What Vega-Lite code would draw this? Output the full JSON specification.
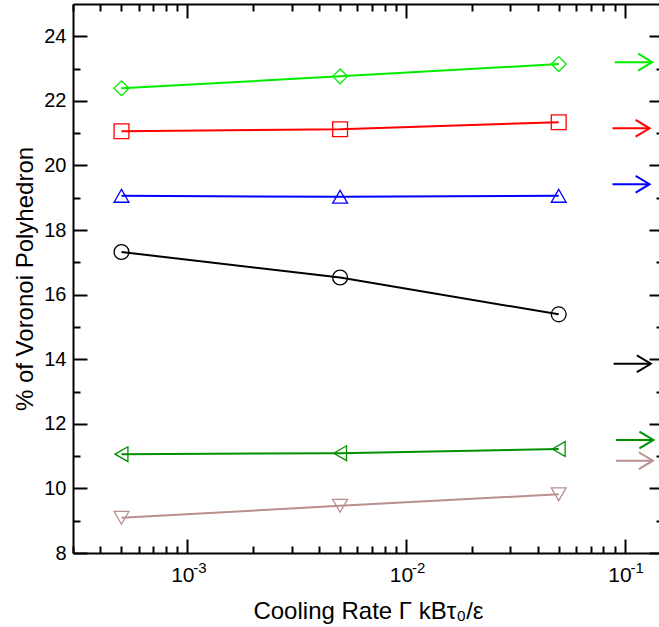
{
  "$schema": "https://vega.github.io/schema/vega-lite/v6.json",
  "autosize": {"type": "none"},
  "padding": {"left": 73, "top": 4, "right": 0, "bottom": 74},
  "width": 590,
  "height": 549,
  "background": "white",
  "config": {
    "view": {"stroke": null},
    "font": "Liberation Sans",
    "axis": {
      "grid": false,
      "domainColor": "black",
      "domainWidth": 2,
      "tickColor": "black",
      "tickWidth": 2,
      "labelColor": "black",
      "titleColor": "black",
      "labelFontSize": 20,
      "titleFontSize": 24,
      "titleFontWeight": "normal",
      "labelFont": "Liberation Sans",
      "titleFont": "Liberation Sans",
      "labelOverlap": false,
      "labelFlush": false
    }
  },
  "datasets": {
    "pts": [
      {"series": "lime", "rate": 0.0005, "pct": 22.39},
      {"series": "lime", "rate": 0.005, "pct": 22.76},
      {"series": "lime", "rate": 0.05, "pct": 23.14},
      {"series": "red", "rate": 0.0005, "pct": 21.06},
      {"series": "red", "rate": 0.005, "pct": 21.12},
      {"series": "red", "rate": 0.05, "pct": 21.34},
      {"series": "blue", "rate": 0.0005, "pct": 19.06},
      {"series": "blue", "rate": 0.005, "pct": 19.03},
      {"series": "blue", "rate": 0.05, "pct": 19.06},
      {"series": "black", "rate": 0.0005, "pct": 17.32},
      {"series": "black", "rate": 0.005, "pct": 16.53},
      {"series": "black", "rate": 0.05, "pct": 15.39},
      {"series": "dkgreen", "rate": 0.0005, "pct": 11.06},
      {"series": "dkgreen", "rate": 0.005, "pct": 11.09},
      {"series": "dkgreen", "rate": 0.05, "pct": 11.22},
      {"series": "rosy", "rate": 0.0005, "pct": 9.09},
      {"series": "rosy", "rate": 0.005, "pct": 9.46},
      {"series": "rosy", "rate": 0.05, "pct": 9.82}
    ],
    "arrows": [
      {"series": "lime", "x1": 0.0903, "x2": 0.1338, "pct": 23.2},
      {"series": "red", "x1": 0.0881, "x2": 0.1303, "pct": 21.15},
      {"series": "blue", "x1": 0.0881, "x2": 0.1303, "pct": 19.42},
      {"series": "black", "x1": 0.0892, "x2": 0.1320, "pct": 13.86},
      {"series": "dkgreen", "x1": 0.0914, "x2": 0.1356, "pct": 11.5},
      {"series": "rosy", "x1": 0.0914, "x2": 0.1348, "pct": 10.86}
    ],
    "sups": [
      {"rate": 0.001, "sup": "-3"},
      {"rate": 0.01, "sup": "-2"},
      {"rate": 0.1, "sup": "-1"}
    ]
  },
  "resolve": {"axis": {"x": "independent", "y": "independent"}},
  "layer": [
    {
      "data": {"name": "pts"},
      "mark": {"type": "line", "strokeWidth": 2},
      "encoding": {
        "x": {
          "field": "rate", "type": "quantitative",
          "scale": {"type": "log", "domain": [0.0003, 0.15], "nice": false},
          "axis": {
            "orient": "bottom",
            "title": "Cooling Rate Γ kBτ₀/ε",
            "values": [0.0003, 0.0004, 0.0005, 0.0006, 0.0007, 0.0008, 0.0009, 0.001, 0.002, 0.003, 0.004, 0.005, 0.006, 0.007, 0.008, 0.009, 0.01, 0.02, 0.03, 0.04, 0.05, 0.06, 0.07, 0.08, 0.09, 0.1],
            "labelExpr": "(datum.value == 0.001 || datum.value == 0.01 || datum.value == 0.1) ? '10' : ''",
            "labelFontSize": 21,
            "labelOffset": -5,
            "tickSize": {"condition": {"test": "abs(log(datum.value)/LN10 - round(log(datum.value)/LN10)) < 1e-6", "value": -14}, "value": -7},
            "labelPadding": 25,
            "titlePadding": 7
          }
        },
        "y": {
          "field": "pct", "type": "quantitative",
          "scale": {"domain": [8, 25], "nice": false, "zero": false},
          "axis": {
            "orient": "left",
            "title": "% of Voronoi Polyhedron",
            "values": [8, 9, 10, 11, 12, 13, 14, 15, 16, 17, 18, 19, 20, 21, 22, 23, 24],
            "labelExpr": "datum.value % 2 == 0 ? datum.value : ''",
            "tickSize": {"condition": {"test": "datum.value % 2 == 0", "value": -14}, "value": -7},
            "labelPadding": 21,
            "titlePadding": 6
          }
        },
        "color": {
          "field": "series", "type": "nominal", "legend": null,
          "scale": {"domain": ["lime", "red", "blue", "black", "dkgreen", "rosy"], "range": ["#00ee00", "#ff0000", "#0000ff", "#000000", "#009000", "#bc8f8f"]}
        }
      }
    },
    {
      "data": {"name": "pts"},
      "mark": {"type": "point", "filled": false, "strokeWidth": 1.3, "size": 220, "opacity": 1},
      "encoding": {
        "x": {"field": "rate", "type": "quantitative", "axis": null},
        "y": {"field": "pct", "type": "quantitative", "axis": null},
        "color": {"field": "series", "type": "nominal", "legend": null},
        "shape": {
          "field": "series", "type": "nominal", "legend": null,
          "scale": {"domain": ["lime", "red", "blue", "black", "dkgreen", "rosy"], "range": ["diamond", "square", "triangle-up", "circle", "triangle-left", "triangle-down"]}
        }
      }
    },
    {
      "data": {"name": "arrows"},
      "mark": {"type": "rule", "strokeWidth": 2},
      "encoding": {
        "x": {
          "field": "x1", "type": "quantitative",
          "axis": {
            "orient": "top", "title": null, "labels": false,
            "values": [0.0003, 0.0004, 0.0005, 0.0006, 0.0007, 0.0008, 0.0009, 0.001, 0.002, 0.003, 0.004, 0.005, 0.006, 0.007, 0.008, 0.009, 0.01, 0.02, 0.03, 0.04, 0.05, 0.06, 0.07, 0.08, 0.09, 0.1],
            "tickSize": {"condition": {"test": "abs(log(datum.value)/LN10 - round(log(datum.value)/LN10)) < 1e-6", "value": -14}, "value": -7}
          }
        },
        "x2": {"field": "x2"},
        "y": {
          "field": "pct", "type": "quantitative",
          "axis": {
            "orient": "right", "title": null, "labels": false,
            "values": [8, 9, 10, 11, 12, 13, 14, 15, 16, 17, 18, 19, 20, 21, 22, 23, 24],
            "tickSize": {"condition": {"test": "datum.value % 2 == 0", "value": -14}, "value": -7}
          }
        },
        "color": {"field": "series", "type": "nominal", "legend": null}
      }
    },
    {
      "data": {"name": "arrows"},
      "mark": {"type": "point", "filled": false, "strokeWidth": 2, "size": 784, "opacity": 1, "shape": "M-1,-0.6L0,0L-1,0.6"},
      "encoding": {
        "x": {"field": "x2", "type": "quantitative", "axis": null},
        "y": {"field": "pct", "type": "quantitative", "axis": null},
        "color": {"field": "series", "type": "nominal", "legend": null}
      }
    },
    {
      "data": {"name": "sups"},
      "mark": {"type": "text", "align": "left", "baseline": "alphabetic", "fontSize": 15, "font": "Liberation Sans", "color": "black", "dx": 6, "dy": 20},
      "encoding": {
        "x": {"field": "rate", "type": "quantitative", "axis": null},
        "y": {"datum": 8, "type": "quantitative", "axis": null},
        "text": {"field": "sup"}
      }
    }
  ]
}
